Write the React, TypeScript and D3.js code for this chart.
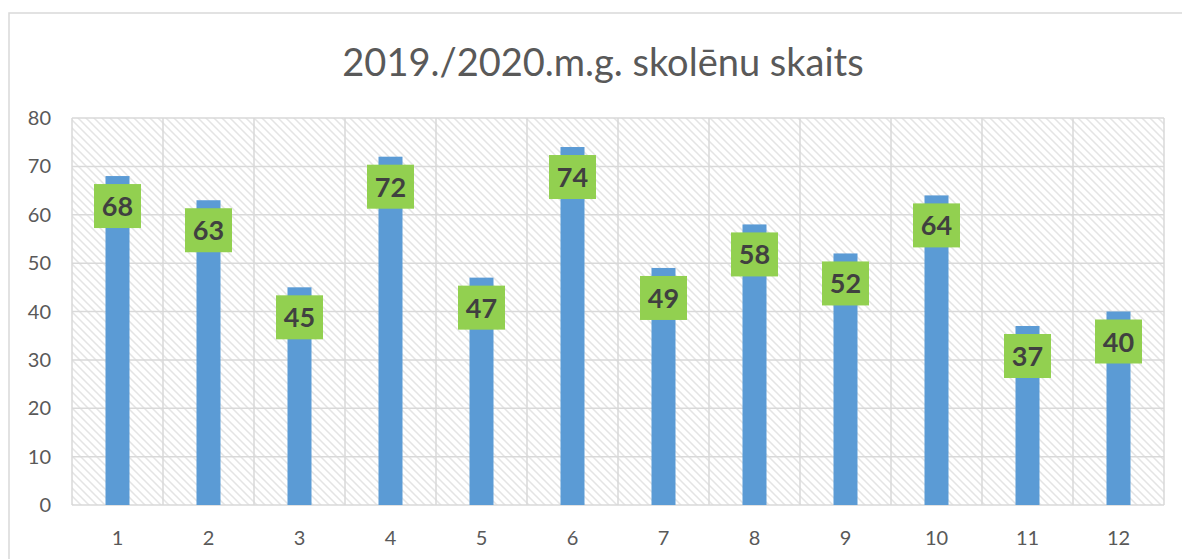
import React from "react";
import * as d3 from "d3";

const categories = ["1", "2", "3", "4", "5", "6", "7", "8", "9", "10", "11", "12"];
const values = [68, 63, 45, 72, 47, 74, 49, 58, 52, 64, 37, 40];
const yTicks = [0, 10, 20, 30, 40, 50, 60, 70, 80];
const title = "2019./2020.m.g. skolēnu skaits";

export default function App() {
  const W = 1182, H = 559;
  const left = 72, right = 1164, top = 118, bottom = 505;
  const x = d3.scaleBand<string>().domain(categories).range([left, right]).paddingInner(0).paddingOuter(0);
  const y = d3.scaleLinear().domain([0, 80]).range([bottom, top]);
  const barW = 24;
  const boxW = 47, boxH = 44;
  const font = "Lato, 'Open Sans', sans-serif";
  return (
    <svg width={W} height={H} style={{ position: "absolute", left: 0, top: 0, display: "block" }}>
      <defs>
        <pattern id="hatch" width="8" height="8" patternUnits="userSpaceOnUse">
          <rect width="8" height="8" fill="#ffffff" />
          <path d="M-2,-2 L10,10 M-2,6 L2,10 M6,-2 L10,2" stroke="#e4e4e4" strokeWidth="1.5" />
        </pattern>
      </defs>
      <rect x={0} y={0} width={W} height={H} fill="#fff" />
      <rect x={9} y={13} width={W + 20} height={H + 20} fill="#fff" stroke="#d9d9d9" strokeWidth={1.5} />
      <text x={603} y={76} textAnchor="middle" fontFamily={font} fontSize={38} fill="#595959">{title}</text>
      <rect x={left} y={top} width={right - left} height={bottom - top} fill="url(#hatch)" />
      {yTicks.map((t) => (
        <line key={"g" + t} x1={left} x2={right} y1={y(t)} y2={y(t)} stroke="#d9d9d9" strokeWidth={1.5} />
      ))}
      {categories.concat(["end"]).map((c, i) => {
        const xx = i < categories.length ? (x(c) as number) : right;
        return <line key={"v" + i} x1={xx} x2={xx} y1={top} y2={bottom} stroke="#d9d9d9" strokeWidth={1.5} />;
      })}
      {yTicks.map((t) => (
        <text key={"yt" + t} x={51} y={y(t) + 7} textAnchor="end" fontFamily={font} fontSize={20} fill="#595959">{t}</text>
      ))}
      {categories.map((c) => (
        <text key={"xt" + c} x={(x(c) as number) + x.bandwidth() / 2} y={545} textAnchor="middle" fontFamily={font} fontSize={20} fill="#595959">{c}</text>
      ))}
      {categories.map((c, i) => {
        const cx = (x(c) as number) + x.bandwidth() / 2;
        return <rect key={"b" + c} x={cx - barW / 2} y={y(values[i])} width={barW} height={bottom - y(values[i])} fill="#5b9bd5" />;
      })}
      {categories.map((c, i) => {
        const cx = (x(c) as number) + x.bandwidth() / 2;
        const by = y(values[i]) + 8;
        return (
          <g key={"l" + c}>
            <rect x={cx - boxW / 2} y={by} width={boxW} height={boxH} fill="#92d050" />
            <text x={cx} y={by + boxH / 2 + 10} textAnchor="middle" fontFamily={font} fontWeight={700} fontSize={27} fill="#404040">{values[i]}</text>
          </g>
        );
      })}
    </svg>
  );
}
